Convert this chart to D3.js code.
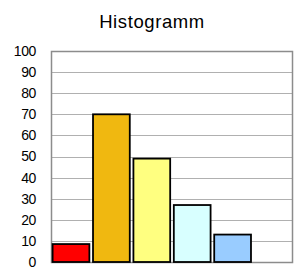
<!DOCTYPE html>
<html>
<head>
<meta charset="utf-8">
<script src="https://cdn.jsdelivr.net/npm/d3@7"></script>
<style>
  body { margin: 0; background: #fff; }
  text { font-family: "Liberation Sans", Arial, sans-serif; }
</style>
</head>
<body>
<div id="chart"></div>
<script>
// data
const categories = ["1", "2", "3", "4", "5", "6"];
const values = [8.5, 70, 49, 27, 13, null];
const barColors = ["#ff0000", "#f0b810", "#ffff80", "#d8ffff", "#99ccff", "#ffffff"];
const yTicks = [0, 10, 20, 30, 40, 50, 60, 70, 80, 90, 100];
const title = "Histogramm";

const width = 302, height = 270;
const margin = {top: 51, right: 9, bottom: 8, left: 51};

const svg = d3.select("#chart").append("svg")
    .attr("width", width)
    .attr("height", height);

const x = d3.scaleBand()
    .domain(categories)
    .range([margin.left, width - margin.right])
    .paddingInner(0.09)
    .paddingOuter(0.04);

const y = d3.scaleLinear()
    .domain([0, 100])
    .range([height - margin.bottom, margin.top]);

// gridlines
svg.append("g")
    .selectAll("line")
    .data(yTicks)
    .enter().append("line")
    .attr("x1", margin.left)
    .attr("x2", width - margin.right)
    .attr("y1", d => Math.round(y(d)) + 0.5)
    .attr("y2", d => Math.round(y(d)) + 0.5)
    .attr("stroke", "#b0b0b0")
    .attr("stroke-width", 1);

// plot frame
svg.append("rect")
    .attr("x", margin.left + 0.5)
    .attr("y", margin.top + 0.5)
    .attr("width", width - margin.left - margin.right - 1)
    .attr("height", height - margin.top - margin.bottom)
    .attr("fill", "none")
    .attr("stroke", "#8c8c8c")
    .attr("stroke-width", 1.5);

// bars
svg.append("g")
    .selectAll("rect")
    .data(categories.filter((c, i) => values[i] != null))
    .enter().append("rect")
    .attr("x", d => x(d))
    .attr("y", (d, i) => y(values[i]))
    .attr("width", x.bandwidth())
    .attr("height", (d, i) => y(0) - y(values[i]))
    .attr("fill", (d, i) => barColors[i])
    .attr("stroke", "#000")
    .attr("stroke-width", 1.8);

// y axis labels
const yAxis = d3.axisLeft(y)
    .tickValues(yTicks)
    .tickSize(0)
    .tickPadding(15);

svg.append("g")
    .attr("transform", `translate(${margin.left},0)`)
    .call(yAxis)
    .call(g => g.select(".domain").remove())
    .call(g => g.selectAll("text")
        .attr("font-size", 14)
        .attr("letter-spacing", -0.4)
        .attr("fill", "#000")
        .style("font-family", "'Liberation Sans', Arial, sans-serif"));

// title
svg.append("text")
    .attr("x", 152)
    .attr("y", 28)
    .attr("text-anchor", "middle")
    .attr("font-size", 18.5)
    .attr("letter-spacing", 0.6)
    .text(title);
</script>
</body>
</html>
